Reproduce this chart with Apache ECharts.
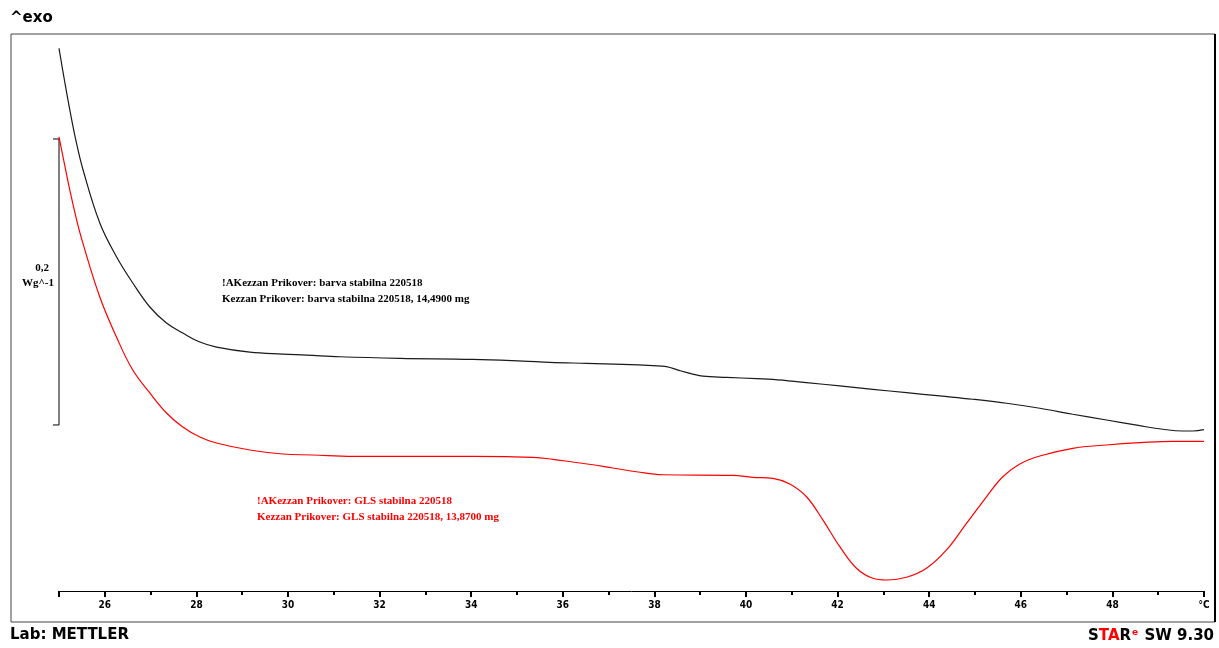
<!DOCTYPE html>
<html>
<head>
<meta charset="utf-8">
<title>DSC</title>
<script src="https://cdn.jsdelivr.net/npm/echarts@6/dist/echarts.min.js"></script>
<style>
  html, body { margin: 0; padding: 0; background: #fff; }
  #chart { width: 1219px; height: 648px; }
</style>
</head>
<body>
<div id="chart"></div>
<script>
// Temperature (°C) and heat flow (W/g, relative offset) for the two DSC runs
const blackTemp = [25.0, 25.12, 25.236, 25.37, 25.526, 25.891, 26.255, 26.611, 26.983, 27.347, 27.703, 28.074, 28.439, 29.166, 29.886, 30.404, 31.131, 32.441, 34.035, 35.127, 35.716, 36.518, 37.31, 37.965, 38.264, 38.555, 38.838, 39.057, 39.574, 40.229, 40.585, 41.321, 42.048, 42.769, 43.504, 44.231, 44.952, 45.688, 46.415, 47.135, 47.871, 48.598, 49.1, 49.537, 49.755, 50.0];
const blackFlow = [0.3795, 0.3570, 0.3364, 0.3150, 0.2944, 0.2573, 0.2338, 0.2154, 0.1986, 0.1874, 0.1804, 0.1741, 0.1706, 0.1671, 0.1657, 0.1650, 0.1638, 0.1627, 0.1620, 0.1608, 0.1599, 0.1592, 0.1585, 0.1576, 0.1569, 0.1541, 0.1517, 0.1503, 0.1494, 0.1485, 0.1480, 0.1457, 0.1434, 0.1410, 0.1387, 0.1364, 0.1341, 0.1313, 0.1278, 0.1236, 0.1196, 0.1156, 0.1131, 0.1119, 0.1119, 0.1128];

const redTemp = [25.0, 25.12, 25.236, 25.37, 25.52, 25.891, 26.255, 26.611, 26.983, 27.347, 27.703, 28.074, 28.439, 29.166, 29.886, 30.541, 31.415, 33.314, 34.771, 35.345, 35.782, 36.218, 36.655, 37.092, 37.609, 38.183, 39.712, 40.148, 40.585, 40.956, 41.321, 41.677, 42.048, 42.413, 42.769, 43.068, 43.504, 43.941, 44.378, 44.814, 45.251, 45.607, 45.978, 46.415, 47.135, 47.871, 48.598, 49.319, 50.0];
const redFlow = [0.3175, 0.2985, 0.2804, 0.2615, 0.2434, 0.2056, 0.1776, 0.1545, 0.1385, 0.1245, 0.1147, 0.1077, 0.1035, 0.0986, 0.0958, 0.0951, 0.0941, 0.0942, 0.0939, 0.0935, 0.0921, 0.0902, 0.0883, 0.0860, 0.0834, 0.0813, 0.0809, 0.0795, 0.0788, 0.0748, 0.0659, 0.0497, 0.0310, 0.0159, 0.0089, 0.0077, 0.0096, 0.0159, 0.0287, 0.0473, 0.0659, 0.0799, 0.0888, 0.0944, 0.0998, 0.1021, 0.1037, 0.1047, 0.1047];

// Axis ticks and labels
const majorTicks = [25, 26, 28, 30, 32, 34, 36, 38, 40, 42, 44, 46, 48, 50];
const minorTicks = [27, 29, 31, 33, 35, 37, 39, 41, 43, 45, 47, 49];
const labelValues = [26, 28, 30, 32, 34, 36, 38, 40, 42, 44, 46, 48, 50];
const unitLabel = '°C';

// Heat-flow scale bar: 0,2 W/g drawn at the left edge of the temperature range
const scaleBar = [[25, 0.1161, 0.3161]];
const scaleText = ['0,2', 'Wg^-1'];

// Curve annotations
const blackNotes = ['!AKezzan Prikover: barva stabilna 220518', 'Kezzan Prikover: barva stabilna 220518, 14,4900 mg'];
const redNotes = ['!AKezzan Prikover: GLS stabilna 220518', 'Kezzan Prikover: GLS stabilna 220518, 13,8700 mg'];

const pairs = (xs, ys) => xs.map((x, i) => [x, ys[i]]);

const chart = echarts.init(document.getElementById('chart'));

const noteFont = 'bold 11px "Liberation Serif", "DejaVu Serif", serif';

chart.setOption({
  backgroundColor: '#fff',
  animation: false,
  grid: { left: 59, right: 15, top: 19, bottom: 57 },
  xAxis: [
    {
      type: 'value', min: 25, max: 50,
      axisLine: { show: true, lineStyle: { color: '#000', width: 1 } },
      axisTick: { show: true, customValues: majorTicks, length: 6, lineStyle: { color: '#000', width: 2 } },
      axisLabel: {
        customValues: labelValues, margin: 9,
        fontFamily: '"DejaVu Sans Condensed", "Liberation Sans", sans-serif',
        fontWeight: 'bold', fontSize: 10, color: '#000',
        formatter: v => (v === 50 ? unitLabel : String(v))
      },
      splitLine: { show: false }
    },
    {
      type: 'value', min: 25, max: 50, position: 'bottom',
      axisLine: { show: false },
      axisTick: { show: true, customValues: minorTicks, length: 4, lineStyle: { color: '#000', width: 2 } },
      axisLabel: { show: false },
      splitLine: { show: false }
    }
  ],
  yAxis: { type: 'value', min: 0, max: 0.4, show: false },
  series: [
    {
      type: 'line', data: pairs(blackTemp, blackFlow), showSymbol: false,
      smooth: 0.4, lineStyle: { color: '#1a1a1a', width: 1.2 }
    },
    {
      type: 'line', data: pairs(redTemp, redFlow), showSymbol: false,
      smooth: 0.4, lineStyle: { color: '#ff0000', width: 1.2 }
    },
    {
      type: 'custom', data: scaleBar, silent: true,
      renderItem: (params, api) => {
        const x = api.value(0);
        const lo = api.coord([x, api.value(1)]);
        const hi = api.coord([x, api.value(2)]);
        const mid = (lo[1] + hi[1]) / 2;
        const stroke = { stroke: '#000', lineWidth: 1 };
        return {
          type: 'group',
          children: [
            { type: 'line', shape: { x1: lo[0], y1: lo[1], x2: hi[0], y2: hi[1] }, style: stroke },
            { type: 'line', shape: { x1: lo[0] - 6, y1: lo[1], x2: lo[0], y2: lo[1] }, style: stroke },
            { type: 'line', shape: { x1: hi[0] - 6, y1: hi[1], x2: hi[0], y2: hi[1] }, style: stroke },
            { type: 'text', style: { x: lo[0] - 10, y: mid - 14, text: scaleText[0], align: 'right', verticalAlign: 'middle', font: 'bold 11px "Liberation Serif", serif', fill: '#000' } },
            { type: 'text', style: { x: lo[0] - 5, y: mid + 1, text: scaleText[1], align: 'right', verticalAlign: 'middle', font: 'bold 11px "Liberation Serif", serif', fill: '#000' } }
          ]
        };
      }
    }
  ],
  graphic: [
    // outer frame
    { type: 'rect', shape: { x: 11, y: 34, width: 1204, height: 588 }, style: { fill: null, stroke: '#444', lineWidth: 1 }, silent: true },
    { type: 'line', shape: { x1: 1215, y1: 34, x2: 1215, y2: 622 }, style: { stroke: '#000', lineWidth: 2 }, silent: true },
    // header and footer
    { type: 'text', left: 10, top: 11, style: { text: '^exo', font: '900 15px "DejaVu Sans", sans-serif', fill: '#000' } },
    { type: 'text', left: 10, top: 628, style: { text: 'Lab: METTLER', font: '900 15px "DejaVu Sans", sans-serif', fill: '#000' } },
    {
      type: 'text', right: 5, top: 628,
      style: {
        text: '{k|S}{r|TA}{k|R}{e|e}{k| SW 9.30}',
        rich: {
          k: { font: '900 15px "DejaVu Sans", sans-serif', fill: '#000' },
          r: { font: '900 15px "DejaVu Sans", sans-serif', fill: '#ff0000' },
          e: { font: '900 9px "DejaVu Sans", sans-serif', fill: '#ff0000', padding: [0, 1, 7, 1] }
        }
      }
    },
    // curve annotations
    { type: 'text', left: 222, top: 275, style: { text: blackNotes.join('\n'), font: noteFont, lineHeight: 16, fill: '#000' } },
    { type: 'text', left: 257, top: 493, style: { text: redNotes.join('\n'), font: noteFont, lineHeight: 16, fill: '#ff0000' } }
  ]
});
</script>
</body>
</html>
